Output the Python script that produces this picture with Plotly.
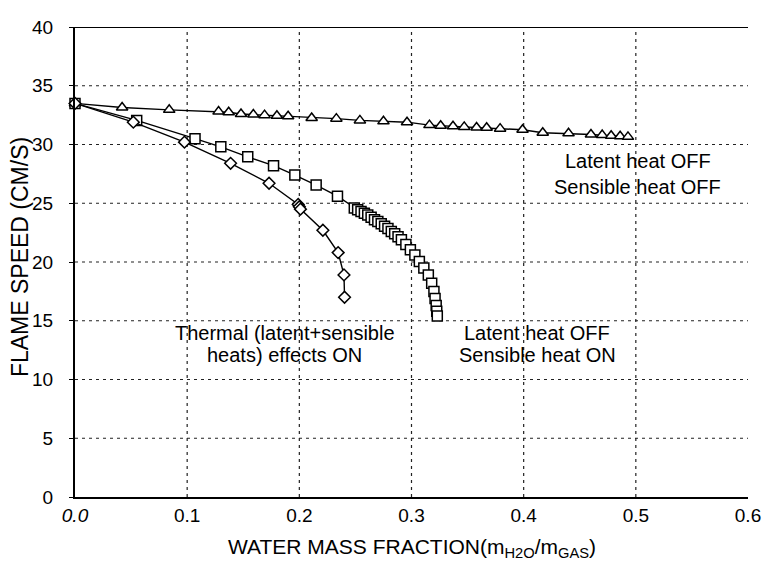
import plotly.graph_objects as go

# Latent heat OFF, Sensible heat OFF (triangles)
tri_x = [0.0, 0.042, 0.084, 0.128, 0.137, 0.148, 0.159, 0.169, 0.180, 0.190, 0.211,
         0.233, 0.254, 0.275, 0.296, 0.316, 0.326, 0.337, 0.347, 0.358, 0.367, 0.379,
         0.399, 0.417, 0.44, 0.46, 0.47, 0.478, 0.486, 0.493]
tri_y = [33.5, 33.15, 32.95, 32.8, 32.75, 32.6, 32.55, 32.5, 32.45, 32.4, 32.25,
         32.2, 32.05, 31.97, 31.9, 31.65, 31.6, 31.55, 31.5, 31.45, 31.42, 31.35,
         31.25, 31.0, 30.95, 30.85, 30.8, 30.75, 30.7, 30.65]

# Latent heat OFF, Sensible heat ON (squares)
sq_x = [0.0, 0.055, 0.107, 0.130, 0.154, 0.177, 0.196, 0.215, 0.234,
        0.249, 0.252, 0.255, 0.258, 0.261, 0.264, 0.267, 0.270, 0.273, 0.276, 0.279,
        0.282, 0.285, 0.288, 0.291, 0.295, 0.299, 0.303, 0.307, 0.311, 0.315,
        0.318, 0.320, 0.321, 0.322, 0.3225, 0.323]
sq_y = [33.5, 32.05, 30.5, 29.8, 28.95, 28.2, 27.4, 26.55, 25.6,
        24.6, 24.45, 24.3, 24.15, 24.0, 23.8, 23.6, 23.45, 23.25, 23.05, 22.85,
        22.6, 22.4, 22.15, 21.9, 21.5, 21.05, 20.6, 20.05, 19.5, 18.9,
        18.2, 17.5, 16.9, 16.3, 15.8, 15.4]

# Thermal (latent+sensible heats) effects ON (diamonds)
dia_x = [0.0, 0.052, 0.0976, 0.1387, 0.173, 0.199, 0.200, 0.201, 0.221, 0.2346, 0.2398, 0.2403]
dia_y = [33.5, 31.9, 30.2, 28.4, 26.7, 24.9, 24.7, 24.5, 22.7, 20.8, 18.9, 17.0]

x_ticks = [0.0, 0.1, 0.2, 0.3, 0.4, 0.5, 0.6]
x_ticktext = ["<i>0.0</i>", "0.1", "0.2", "0.3", "0.4", "0.5", "0.6"]
y_ticks = [0, 5, 10, 15, 20, 25, 30, 35, 40]

FONT = "Liberation Sans, Arial, sans-serif"

fig = go.Figure()

def add_series(xs, ys, symbol, size):
    fig.add_trace(go.Scatter(
        x=xs, y=ys, mode="lines+markers",
        line=dict(color="black", width=1.4),
        marker=dict(symbol=symbol, size=size, color="white",
                    line=dict(color="black", width=1.5)),
        showlegend=False, cliponaxis=False))

add_series(tri_x, tri_y, "triangle-up", 10)
add_series(sq_x, sq_y, "square", 10)
add_series(dia_x, dia_y, "diamond", 9)

grid = dict(color="#222", width=1.2, dash="3px,4px")
for gx in x_ticks[1:-1]:
    fig.add_shape(type="line", xref="x", yref="y", x0=gx, x1=gx, y0=0, y1=40,
                  line=grid, layer="below")
for gy in y_ticks[1:-1]:
    fig.add_shape(type="line", xref="x", yref="y", x0=0, x1=0.6, y0=gy, y1=gy,
                  line=grid, layer="below")
fig.add_shape(type="line", xref="x", yref="y", x0=0, x1=0.6, y0=40, y1=40,
              line=dict(color="black", width=2), layer="above")

ann_font = dict(family=FONT, size=20, color="black")
labels = [
    (0.5015, 28.6, "Latent heat OFF"),
    (0.5015, 26.35, "Sensible heat OFF"),
    (0.412, 13.95, "Latent heat OFF"),
    (0.412, 12.05, "Sensible heat ON"),
    (0.187, 13.95, "Thermal (latent+sensible"),
    (0.187, 12.05, "heats) effects ON"),
]
for lx, ly, lt in labels:
    fig.add_annotation(x=lx, y=ly, xref="x", yref="y", showarrow=False,
                       text=lt, font=ann_font, align="center")

fig.add_annotation(x=0.5, y=-0.108, xref="paper", yref="paper", showarrow=False,
                   xanchor="center", yanchor="middle",
                   text="WATER MASS FRACTION(m<sub>H2O</sub>/m<sub>GAS</sub>)",
                   font=dict(family=FONT, size=21, color="black"))
fig.add_annotation(x=-0.082, y=0.51, xref="paper", yref="paper", showarrow=False,
                   xanchor="center", yanchor="middle",
                   textangle=-90, text="FLAME SPEED (CM/S)",
                   font=dict(family=FONT, size=23, color="black"))

# The page body adds an 8px margin, so the figure is drawn 8px in from the top-left.
fig.update_layout(
    width=762, height=557,
    margin=dict(l=67, r=13, t=9, b=68),
    paper_bgcolor="white", plot_bgcolor="white",
    font=dict(family=FONT, color="black"),
    xaxis=dict(range=[0, 0.6], tickvals=x_ticks, ticktext=x_ticktext,
               showgrid=False, zeroline=False, showline=True, linecolor="black",
               linewidth=2, ticks="", ticklabeloverflow="allow",
               tickfont=dict(size=19, color="black")),
    yaxis=dict(range=[0, 40], tickvals=y_ticks, showgrid=False, zeroline=False,
               showline=True, linecolor="black", linewidth=2, ticks="outside",
               ticklen=4, tickcolor="black", ticklabelstandoff=12,
               ticklabeloverflow="allow",
               tickfont=dict(size=19, color="black")),
)

fig.write_html("out.html")
